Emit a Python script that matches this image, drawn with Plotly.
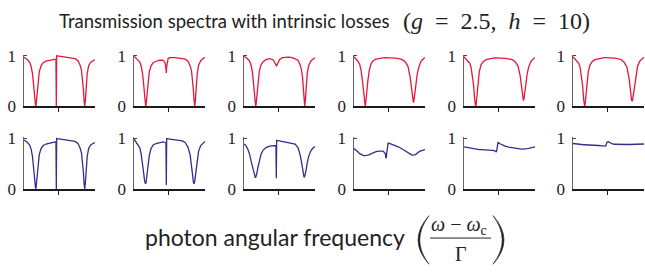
import plotly.graph_objects as go

# ---------------- data ----------------
# shared frequency grid, (omega - omega_c)/Gamma
freq = [-4.8, -4.6, -4.3, -4.0, -3.8, -3.6, -3.45, -3.3, -3.22, -3.16,
        -3.1, -3.0, -2.85, -2.65, -2.4, -2.1, -1.7, -1.2, -0.7, -0.4,
        -0.3, -0.25, -0.2, -0.1, 0.0, 0.2, 0.6, 1.0, 1.5, 2.0,
        2.4, 2.8, 3.1, 3.3, 3.45, 3.57, 3.66, 3.75, 3.84, 3.95,
        4.1, 4.3, 4.6, 4.9, 5.2]

# top row (red)
red_1 = [0.97, 0.95, 0.92, 0.87, 0.79, 0.64, 0.44, 0.15, 0.03, 0.0,
         0.03, 0.19, 0.46, 0.68, 0.80, 0.86, 0.89, 0.91, 0.92, 0.93,
         0.92, 0.0, 1.0, 0.995, 0.993, 0.99, 0.985, 0.98, 0.97, 0.96,
         0.94, 0.90, 0.81, 0.71, 0.55, 0.32, 0.11, 0.0, 0.11, 0.38,
         0.64, 0.80, 0.87, 0.90, 0.92]
red_2 = [0.99, 0.96, 0.93, 0.88, 0.80, 0.65, 0.45, 0.15, 0.03, 0.0,
         0.03, 0.19, 0.46, 0.68, 0.80, 0.86, 0.89, 0.91, 0.91, 0.85,
         0.74, 0.66, 0.78, 0.91, 0.94, 0.96, 0.965, 0.96, 0.95, 0.94,
         0.93, 0.89, 0.80, 0.70, 0.54, 0.31, 0.11, 0.0, 0.11, 0.38,
         0.64, 0.81, 0.90, 0.94, 0.97]
red_3 = [0.99, 0.97, 0.94, 0.89, 0.81, 0.66, 0.46, 0.16, 0.03, 0.0,
         0.03, 0.19, 0.46, 0.69, 0.82, 0.88, 0.92, 0.94, 0.92, 0.86,
         0.82, 0.80, 0.80, 0.83, 0.87, 0.92, 0.96, 0.97, 0.97, 0.96,
         0.94, 0.91, 0.82, 0.72, 0.56, 0.33, 0.11, 0.0, 0.11, 0.38,
         0.64, 0.80, 0.89, 0.93, 0.96]
red_4 = [0.98, 0.95, 0.90, 0.83, 0.71, 0.49, 0.25, 0.03, 0.0, 0.05,
         0.11, 0.28, 0.50, 0.71, 0.84, 0.90, 0.93, 0.95, 0.955, 0.96,
         0.96, 0.96, 0.96, 0.96, 0.96, 0.96, 0.955, 0.95, 0.94, 0.92,
         0.88, 0.79, 0.58, 0.35, 0.14, 0.07, 0.13, 0.25, 0.37, 0.51,
         0.63, 0.76, 0.88, 0.93, 0.96]
red_5 = [0.98, 0.95, 0.91, 0.85, 0.77, 0.61, 0.41, 0.14, 0.03, 0.0,
         0.03, 0.17, 0.44, 0.68, 0.82, 0.88, 0.92, 0.94, 0.95, 0.955,
         0.955, 0.955, 0.955, 0.955, 0.955, 0.955, 0.95, 0.945, 0.935, 0.92,
         0.88, 0.80, 0.61, 0.39, 0.18, 0.11, 0.16, 0.27, 0.39, 0.52,
         0.64, 0.77, 0.88, 0.93, 0.96]
red_6 = [0.98, 0.95, 0.91, 0.85, 0.77, 0.61, 0.41, 0.14, 0.03, 0.0,
         0.03, 0.17, 0.44, 0.68, 0.82, 0.88, 0.92, 0.94, 0.95, 0.96,
         0.96, 0.96, 0.96, 0.96, 0.96, 0.96, 0.955, 0.95, 0.94, 0.92,
         0.87, 0.77, 0.55, 0.30, 0.12, 0.10, 0.19, 0.30, 0.42, 0.54,
         0.67, 0.79, 0.89, 0.94, 0.97]

# bottom row (blue)
blue_1 = [0.97, 0.95, 0.92, 0.87, 0.79, 0.64, 0.44, 0.15, 0.03, 0.0,
          0.03, 0.19, 0.46, 0.68, 0.80, 0.86, 0.89, 0.91, 0.92, 0.93,
          0.93, 0.0, 1.0, 0.995, 0.993, 0.99, 0.985, 0.98, 0.97, 0.96,
          0.94, 0.90, 0.81, 0.71, 0.55, 0.32, 0.11, 0.0, 0.11, 0.38,
          0.64, 0.80, 0.87, 0.90, 0.92]
blue_2 = [0.99, 0.95, 0.90, 0.82, 0.70, 0.53, 0.33, 0.15, 0.10, 0.10,
          0.13, 0.25, 0.45, 0.66, 0.80, 0.87, 0.90, 0.92, 0.93, 0.92,
          0.90, 0.08, 1.0, 0.995, 0.993, 0.99, 0.985, 0.98, 0.97, 0.95,
          0.92, 0.83, 0.68, 0.49, 0.28, 0.13, 0.10, 0.15, 0.27, 0.42,
          0.60, 0.75, 0.86, 0.90, 0.94]
blue_3 = [0.89, 0.87, 0.80, 0.68, 0.55, 0.43, 0.33, 0.25, 0.23, 0.23,
          0.25, 0.30, 0.42, 0.57, 0.69, 0.77, 0.82, 0.85, 0.86, 0.86,
          0.86, 0.21, 0.96, 0.955, 0.955, 0.95, 0.94, 0.93, 0.92, 0.91,
          0.89, 0.82, 0.68, 0.53, 0.38, 0.27, 0.23, 0.25, 0.30, 0.38,
          0.51, 0.64, 0.75, 0.81, 0.84]
blue_4 = [0.80, 0.78, 0.74, 0.70, 0.68, 0.665, 0.66, 0.66, 0.66, 0.66,
          0.66, 0.665, 0.67, 0.68, 0.70, 0.72, 0.74, 0.75, 0.75, 0.70,
          0.61, 0.62, 0.70, 0.86, 0.905, 0.90, 0.88, 0.86, 0.83, 0.79,
          0.75, 0.71, 0.685, 0.675, 0.67, 0.67, 0.67, 0.675, 0.68, 0.69,
          0.71, 0.73, 0.755, 0.77, 0.78]
blue_5 = [0.835, 0.83, 0.82, 0.81, 0.80, 0.795, 0.79, 0.79, 0.79, 0.785,
          0.785, 0.785, 0.78, 0.78, 0.78, 0.78, 0.78, 0.775, 0.765, 0.75,
          0.73, 0.73, 0.76, 0.84, 0.92, 0.90, 0.87, 0.85, 0.83, 0.815,
          0.805, 0.80, 0.795, 0.79, 0.79, 0.79, 0.79, 0.79, 0.79, 0.795,
          0.80, 0.805, 0.815, 0.825, 0.835]
blue_6 = [0.90, 0.895, 0.89, 0.885, 0.88, 0.88, 0.875, 0.875, 0.875, 0.875,
          0.875, 0.87, 0.87, 0.87, 0.865, 0.865, 0.86, 0.86, 0.855, 0.85,
          0.85, 0.84, 0.85, 0.89, 0.93, 0.935, 0.90, 0.885, 0.88, 0.88,
          0.88, 0.88, 0.88, 0.88, 0.88, 0.88, 0.88, 0.88, 0.88, 0.88,
          0.88, 0.885, 0.885, 0.89, 0.89]

y_tick_vals = [0, 1]
y_tick_text = ["0", "1"]
x_tick_vals = [0]

title_text = "Transmission spectra with intrinsic losses"
title_math = ("(<i>g</i>&nbsp;&nbsp;=&nbsp;&nbsp;2.5,&nbsp;&nbsp;"
              "<i>h</i>&nbsp;&nbsp;=&nbsp;&nbsp;10)")
xlabel_text = "photon angular frequency"

# ---------------- layout ----------------
W, H = 645, 278
RED, BLUE = "#e3173a", "#3a2a8e"
rows = [[red_1, red_2, red_3, red_4, red_5, red_6],
        [blue_1, blue_2, blue_3, blue_4, blue_5, blue_6]]
row_colors = [RED, BLUE]
row_px = [(49.9, 105.0), (138.4, 193.5)]   # top, bottom in pixels
col_left = [24, 134, 244, 354, 464, 573]
col_w = 71

def px(x):
    return x / W

def py(y):
    return 1 - y / H

fig = go.Figure()
layout = {}
k = 0
for r in range(2):
    for c in range(6):
        k += 1
        sfx = "" if k == 1 else str(k)
        fig.add_trace(go.Scatter(
            x=freq, y=rows[r][c], mode="lines",
            line=dict(color=row_colors[r], width=1.3),
            xaxis="x" + sfx, yaxis="y" + sfx,
            showlegend=False, hoverinfo="skip"))
        layout["xaxis" + sfx] = dict(
            domain=[px(col_left[c]), px(col_left[c] + col_w)],
            anchor="y" + sfx, range=[-4.8, 5.2],
            showline=True, linecolor="#1a1a1a", linewidth=1.6,
            ticks="outside", tickvals=x_tick_vals, ticklen=4,
            tickwidth=1, tickcolor="#1a1a1a",
            showticklabels=False, showgrid=False, zeroline=False,
            fixedrange=True)
        layout["yaxis" + sfx] = dict(
            domain=[py(row_px[r][1]), py(row_px[r][0])],
            anchor="x" + sfx, range=[0, 1.02],
            showline=True, linecolor="#666666", linewidth=1.5,
            ticks="inside", tickvals=y_tick_vals, ticktext=y_tick_text,
            ticklen=3, tickwidth=1, tickcolor="#444444",
            ticklabelstandoff=3,
            tickfont=dict(family="Liberation Serif", size=17, color="#222222"),
            showgrid=False, zeroline=False, fixedrange=True)

fig.update_layout(**layout)

ann = []
ann.append(dict(text=title_text, x=px(392), y=py(14), xref="paper", yref="paper",
                xanchor="right", yanchor="middle", showarrow=False,
                font=dict(family="Lato", size=18.5, color="#222222")))
ann.append(dict(text=title_math, x=px(401), y=py(14), xref="paper", yref="paper",
                xanchor="left", yanchor="middle", showarrow=False,
                font=dict(family="Liberation Serif", size=24, color="#222222")))
ann.append(dict(text=xlabel_text, x=px(407), y=py(245), xref="paper", yref="paper",
                xanchor="right", yanchor="middle", showarrow=False,
                font=dict(family="Lato", size=23, color="#222222")))
ann.append(dict(text="<i>ω</i> − <i>ω</i><sub>c</sub>", x=px(459), y=py(233),
                xref="paper", yref="paper", xanchor="center", yanchor="middle",
                showarrow=False,
                font=dict(family="Liberation Serif", size=20, color="#222222")))
ann.append(dict(text="Γ", x=px(461), y=py(263), xref="paper", yref="paper",
                xanchor="center", yanchor="middle", showarrow=False,
                font=dict(family="Liberation Serif", size=20, color="#222222")))

def paren(x_end, x_mid_out, x_mid_in, y_top, y_bot):
    cy = (y_top + y_bot) / 2
    c_out = 2 * x_mid_out - x_end
    c_in = 2 * x_mid_in - x_end
    return (f"M {px(x_end)},{py(y_top)} Q {px(c_out)},{py(cy)} {px(x_end)},{py(y_bot)} "
            f"Q {px(c_in)},{py(cy)} {px(x_end)},{py(y_top)} Z")

shapes = [
    dict(type="path", xref="paper", yref="paper",
         path=paren(429, 418, 419.8, 222, 274),
         fillcolor="#222222", line=dict(color="#222222", width=0.6)),
    dict(type="path", xref="paper", yref="paper",
         path=paren(493, 504, 502.2, 222, 274),
         fillcolor="#222222", line=dict(color="#222222", width=0.6)),
    dict(type="line", xref="paper", yref="paper",
         x0=px(430), x1=px(491), y0=py(246), y1=py(246),
         line=dict(color="#222222", width=1)),
]

fig.update_layout(
    width=W, height=H, autosize=False,
    margin=dict(l=0, r=0, t=0, b=0),
    paper_bgcolor="white", plot_bgcolor="white",
    annotations=ann, shapes=shapes)

fig.write_html("out.html",
               config={"displayModeBar": False, "staticPlot": True},
               post_script="document.body.style.margin='0';"
                           "document.body.style.padding='0';"
                           "document.body.style.overflow='hidden';")
